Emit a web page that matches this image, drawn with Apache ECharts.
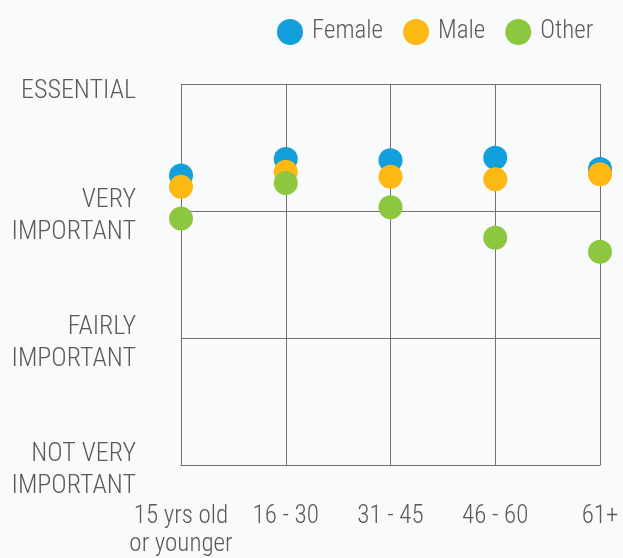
<!DOCTYPE html>
<html>
<head>
<meta charset="utf-8">
<script src="https://cdn.jsdelivr.net/npm/echarts@6/dist/echarts.min.js"></script>
<style>
html,body{margin:0;padding:0;background:#f9fafb;}
#chart{width:623px;height:558px;}
</style>
</head>
<body>
<div id="chart"></div>
<script>
const categories = ['15 yrs old\nor younger', '16 - 30', '31 - 45', '46 - 60', '61+'];
const levelLabels = ['NOT VERY\nIMPORTANT', 'FAIRLY\nIMPORTANT', 'VERY\nIMPORTANT', 'ESSENTIAL'];
const female = [3.28, 3.41, 3.40, 3.42, 3.33];
const male = [3.19, 3.31, 3.27, 3.25, 3.29];
const other = [2.94, 3.22, 3.03, 2.79, 2.68];

const FONT = '"Roboto Condensed", "Open Sans", sans-serif';
const FW = 300;
const TXT = '#58595b';
const LINE = '#707173';

const chart = echarts.init(document.getElementById('chart'));
const mk = (name, data, color) => ({
  name, type: 'scatter', data, symbol: 'circle', symbolSize: 24,
  itemStyle: { color, opacity: 1 }
});
chart.setOption({
  backgroundColor: '#f9fafb',
  animation: false,
  textStyle: { fontFamily: FONT, fontWeight: FW },
  legend: {
    left: 272, top: 14, width: 345,
    itemWidth: 26, itemHeight: 26, itemGap: 20,
    icon: 'circle',
    textStyle: { fontFamily: FONT, fontWeight: FW, fontSize: 25, color: TXT, padding: [0, 0, 0, 4] },
    data: ['Female', 'Male', 'Other']
  },
  grid: { left: 181, right: 23, top: 84, bottom: 93, outerBoundsMode: 'none', containLabel: false },
  xAxis: {
    type: 'category', data: categories, boundaryGap: false,
    axisLine: { show: true, lineStyle: { color: LINE, width: 1 } },
    axisTick: { show: false },
    splitLine: { show: true, lineStyle: { color: LINE, width: 1 } },
    axisLabel: { fontFamily: FONT, fontWeight: FW, fontSize: 25, color: TXT, margin: 38, lineHeight: 28, interval: 0 }
  },
  yAxis: {
    type: 'value', min: 1, max: 4, interval: 1,
    axisLine: { show: false },
    axisTick: { show: false },
    splitLine: { show: true, lineStyle: { color: LINE, width: 1 } },
    axisLabel: {
      margin: 45, align: 'right',
      formatter: v => {
        const s = levelLabels[Math.round(v) - 1];
        if (!s) return '';
        const gap = s.indexOf('\n') >= 0 ? '{g2| }' : '{g1| }';
        return gap + '\n' + s.split('\n').map(l => '{t|' + l + '}').join('\n');
      },
      rich: {
        g1: { fontSize: 1, lineHeight: 14 },
        g2: { fontSize: 1, lineHeight: 10 },
        t: { fontFamily: FONT, fontWeight: FW, fontSize: 26, lineHeight: 32, color: TXT, align: 'right' }
      }
    }
  },
  series: [
    mk('Female', female, '#139fdb'),
    mk('Male', male, '#fdb913'),
    mk('Other', other, '#8dc63f')
  ]
});
</script>
</body>
</html>
